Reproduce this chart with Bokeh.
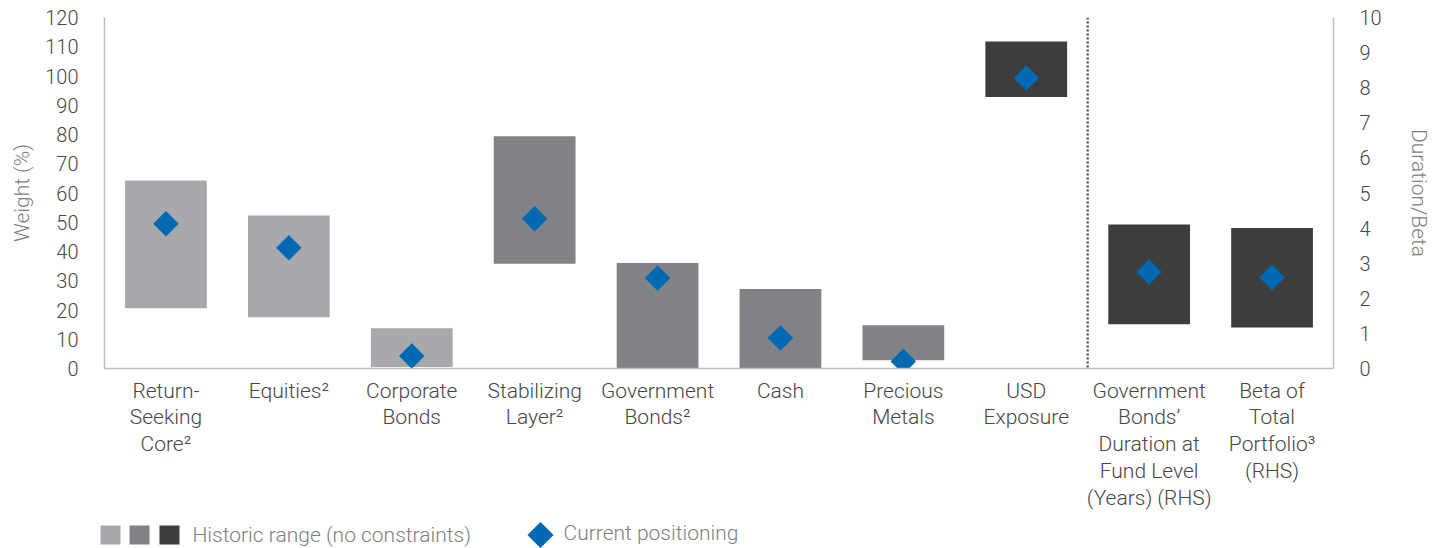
import math
from bokeh.plotting import figure
from bokeh.models import Range1d, LinearAxis, FixedTicker, Span
from bokeh.embed import file_html
from bokeh.resources import INLINE
from bokeh.core.properties import value

# ---------------- data ----------------
categories = [
    "Return-\nSeeking\nCore²",
    "Equities²",
    "Corporate\nBonds",
    "Stabilizing\nLayer²",
    "Government\nBonds²",
    "Cash",
    "Precious\nMetals",
    "USD\nExposure",
    "Government\nBonds’\nDuration at\nFund Level\n(Years) (RHS)",
    "Beta of\nTotal\nPortfolio³\n(RHS)",
]
# left-hand-side (Weight %) categories
lhs_low = [20.6, 17.5, 0.5, 35.8, 0.0, 0.0, 2.8, 92.8]
lhs_high = [64.3, 52.3, 13.8, 79.4, 36.1, 27.2, 14.8, 111.8]
lhs_current = [49.5, 41.3, 4.3, 51.2, 30.9, 10.4, 2.4, 99.3]
lhs_shade = [0, 0, 0, 1, 1, 1, 1, 2]
# right-hand-side (Duration/Beta) categories
rhs_low = [1.26, 1.17]
rhs_high = [4.1, 4.0]
rhs_current = [2.75, 2.6]
rhs_shade = [2, 2]

left_ticks = list(range(0, 121, 10))
right_ticks = list(range(0, 11, 1))
legend_labels = ["Historic range (no constraints)", "Current positioning"]

# ---------------- style ----------------
SHADES = ["#A7A9AC", "#808285", "#3D3D3D"]
BLUE = "#0069B4"
TXT = "#474747"
TITLE = "#7F7F7F"
AXIS = "#BFBFBF"
FONT = "'Roboto Light', Roboto"

W = 1441
H_MAIN = 513
H_LEG = 35

p = figure(width=W, height=H_MAIN, output_backend="svg", toolbar_location=None,
           x_range=Range1d(0, len(categories)), y_range=Range1d(0, 120),
           min_border_left=104, min_border_right=108,
           min_border_top=17, min_border_bottom=145)
p.extra_y_ranges = {"rhs": Range1d(0, 10)}
p.outline_line_color = None
p.grid.visible = False

xpos = [i + 0.5 for i in range(len(categories))]
nl = len(lhs_low)

# bars (historic ranges)
p.vbar(x=xpos[:nl], bottom=lhs_low, top=lhs_high, width=0.665,
       fill_color=[SHADES[s] for s in lhs_shade], line_color=None)
p.vbar(x=xpos[nl:], bottom=rhs_low, top=rhs_high, width=0.665,
       fill_color=[SHADES[s] for s in rhs_shade], line_color=None, y_range_name="rhs")

# diamonds (current positioning)
p.scatter(x=xpos[:nl], y=lhs_current, marker="square", angle=math.pi / 4, size=18,
          fill_color=BLUE, line_color=None)
p.scatter(x=xpos[nl:], y=rhs_current, marker="square", angle=math.pi / 4, size=18,
          fill_color=BLUE, line_color=None, y_range_name="rhs")

# separator between weight and duration/beta categories
p.add_layout(Span(location=nl, dimension="height", line_color="#4A4A4A",
                  line_width=2.2, line_dash="2 2"))

# axes
yl = p.yaxis[0]
yl.ticker = FixedTicker(ticks=left_ticks)
yl.axis_label = "Weight (%)"
yr = LinearAxis(y_range_name="rhs", ticker=FixedTicker(ticks=right_ticks),
                axis_label="Duration/Beta")
p.add_layout(yr, "right")
xa = p.xaxis[0]
xa.ticker = FixedTicker(ticks=xpos)
xa.major_label_overrides = {x: c for x, c in zip(xpos, categories)}
for ax in (yl, yr, xa):
    ax.axis_line_color = AXIS
    ax.axis_line_width = 1.5
    ax.major_tick_line_color = None
    ax.minor_tick_line_color = None
    ax.major_label_text_font = FONT
    ax.major_label_text_font_size = "20px"
    ax.major_label_text_color = TXT
    ax.axis_label_text_font = FONT
    ax.axis_label_text_font_size = "21px"
    ax.axis_label_text_font_style = "normal"
    ax.axis_label_text_color = TITLE
xa.major_label_text_font_size = "21px"
xa.major_label_text_line_height = 1.12
xa.major_label_standoff = 4
for ax in (yl, yr):
    ax.major_label_standoff = 20
yl.axis_label_standoff = 8
yr.axis_label_standoff = 22

# ---------------- legend strip ----------------
lg = figure(width=W, height=H_LEG, output_backend="svg", toolbar_location=None,
            x_range=Range1d(0, W), y_range=Range1d(0, H_LEG),
            x_axis_type=None, y_axis_type=None,
            min_border=0, min_border_left=0, min_border_right=0,
            min_border_top=0, min_border_bottom=0)
lg.grid.visible = False
lg.outline_line_color = None
cy = 13.5
lg.rect(x=[110, 139, 169], y=[cy] * 3, width=20, height=19,
        fill_color=SHADES, line_color=None)
lg.scatter(x=[540], y=[cy], marker="square", angle=math.pi / 4, size=18.5,
           fill_color=BLUE, line_color=None)
lg.text(x=[192, 563], y=[cy, cy + 2], text=legend_labels,
        text_font=value(FONT), text_font_size="21px", text_color=TITLE,
        text_baseline="middle", text_align="left")

open("out.html", "w").write(file_html([p, lg], INLINE))
